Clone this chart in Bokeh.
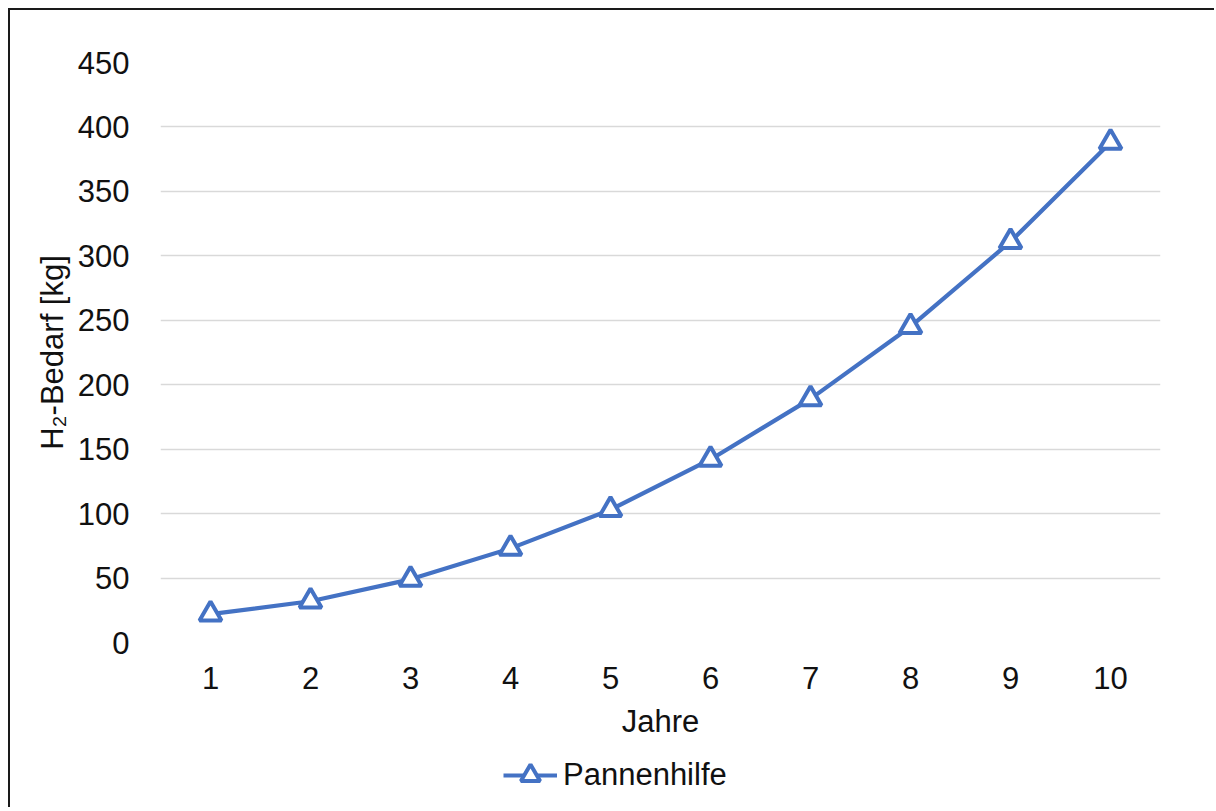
from bokeh.plotting import figure
from bokeh.layouts import column
from bokeh.models import (Range1d, FactorRange, FixedTicker, Legend, LegendItem,
                          ColumnDataSource)
from bokeh.embed import file_html
from bokeh.resources import INLINE

# ---- data ----
years = ["1", "2", "3", "4", "5", "6", "7", "8", "9", "10"]
demand_kg = [22, 32, 49, 73, 103, 142, 189, 245, 311, 388]
y_ticks = [0, 50, 100, 150, 200, 250, 300, 350, 400, 450]
series_name = "Pannenhilfe"
x_title = "Jahre"
y_title = "H\u2082-Bedarf [kg]"

FONT = "Liberation Sans"
FS = "31px"
BLUE = "#4472C4"
TXT = "#111111"
LINE_W = 4.2
MK_SIZE = 22
MK_LW = 4

src = ColumnDataSource(dict(x=years, y=demand_kg))

p = figure(width=1204, height=731,
           x_range=FactorRange(*years), y_range=Range1d(0, 450),
           output_backend="svg", toolbar_location=None,
           min_border_left=150, min_border_right=54,
           min_border_top=52, min_border_bottom=98)
p.outline_line_color = None
p.background_fill_color = "white"
p.border_fill_color = "white"

# y axis
p.yaxis.ticker = FixedTicker(ticks=y_ticks)
p.yaxis.axis_line_color = None
p.yaxis.major_tick_line_color = None
p.yaxis.minor_tick_line_color = None
p.yaxis.major_label_standoff = 25
p.yaxis.major_label_text_font = FONT
p.yaxis.major_label_text_font_size = FS
p.yaxis.major_label_text_color = TXT
p.yaxis.axis_label = y_title
p.yaxis.axis_label_text_font = FONT
p.yaxis.axis_label_text_font_size = FS
p.yaxis.axis_label_text_font_style = "normal"
p.yaxis.axis_label_text_color = TXT
p.yaxis.axis_label_standoff = 5

# x axis
p.xaxis.axis_line_color = None
p.xaxis.major_tick_line_color = None
p.xaxis.minor_tick_line_color = None
p.xaxis.major_label_standoff = 18
p.xaxis.major_label_text_font = FONT
p.xaxis.major_label_text_font_size = FS
p.xaxis.major_label_text_color = TXT
p.xaxis.axis_label = x_title
p.xaxis.axis_label_text_font = FONT
p.xaxis.axis_label_text_font_size = FS
p.xaxis.axis_label_text_font_style = "normal"
p.xaxis.axis_label_text_color = TXT
p.xaxis.axis_label_standoff = 12

p.xgrid.grid_line_color = None
p.ygrid.grid_line_color = "#d9d9d9"
p.ygrid.grid_line_width = 1.6

p.line("x", "y", source=src, line_color=BLUE, line_width=LINE_W, line_join="round")
p.scatter("x", "y", source=src, marker="triangle", size=MK_SIZE,
          fill_color="white", line_color=BLUE, line_width=MK_LW)

# ---- legend strip below the chart (same series, its range keeps the marks out of view) ----
lf = figure(width=1204, height=66, output_backend="svg", toolbar_location=None,
            x_axis_location=None, y_axis_location=None,
            min_border=0, x_range=FactorRange(*years), y_range=Range1d(1000, 1100))
lf.outline_line_color = None
lf.grid.grid_line_color = None
lf.background_fill_color = "white"
lf.border_fill_color = "white"
lg_line = lf.line("x", "y", source=src, line_color=BLUE, line_width=LINE_W)
lg_mark = lf.scatter("x", "y", source=src, marker="triangle", size=MK_SIZE,
                     fill_color="white", line_color=BLUE, line_width=MK_LW)
legend = Legend(items=[LegendItem(label=series_name, renderers=[lg_line, lg_mark])],
                orientation="horizontal", location=(343, 8),
                label_text_font=FONT, label_text_font_size=FS,
                label_text_color=TXT,
                glyph_width=54, glyph_height=48, label_standoff=6,
                border_line_color=None, background_fill_alpha=0,
                padding=0, margin=0, spacing=0)
lf.add_layout(legend, "center")

layout = column(p, lf, spacing=0, margin=(8, 0, 0, 8))
layout.styles = {"border-left": "2px solid #1a1a1a", "border-top": "2px solid #1a1a1a",
                 "border-right": "none", "border-bottom": "none"}

open("out.html", "w").write(file_html(layout, INLINE))
